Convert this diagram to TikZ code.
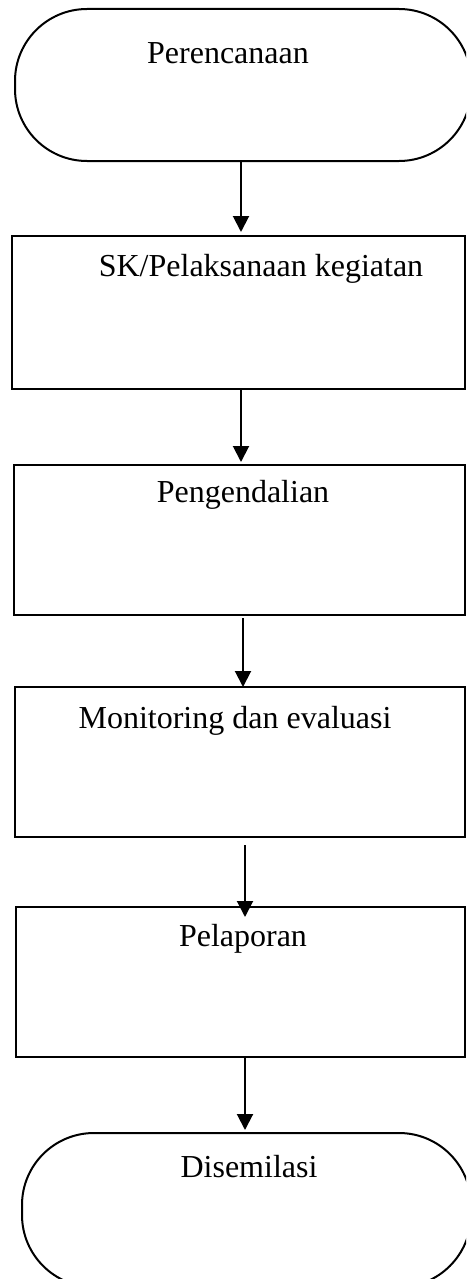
\documentclass[tikz,border=0pt]{standalone}
\usepackage{fontspec}
\setmainfont{Liberation Serif}
\usetikzlibrary{positioning,arrows.meta}

\tikzset{
  box/.style={draw, line width=2pt, inner sep=0pt},
  term/.style={box, rounded corners=72pt},
  lbl/.style={anchor=base, inner sep=0pt, font=\fontsize{32}{37}\selectfont},
  arr/.style={line width=2pt, -{Triangle[width=16pt,length=16pt]}}
}

\begin{document}
\begin{tikzpicture}[x=1pt, y=-1pt]
  \clip (0,0) rectangle (466,1279);
  % Shapes
  \node[term, minimum width=456pt, minimum height=152pt] (start) at (243,85) {};
  \node[box, minimum width=453pt, minimum height=153pt] (sk) at (238.5,312.5) {};
  \node[box, minimum width=451pt, minimum height=150pt] (ctrl) at (239.5,540) {};
  \node[box, minimum width=450pt, minimum height=150pt] (monev) at (240,762) {};
  \node[box, minimum width=449pt, minimum height=150pt] (report) at (240.5,982) {};
  \node[term, minimum width=449pt, minimum height=154pt] (finish) at (246.5,1210) {};
  % Labels
  \node[lbl] (t1) at ([xshift=-15pt,yshift=-56pt]start.north) {Perencanaan};
  \node[lbl] (t2) at ([xshift=22.5pt,yshift=-41pt]sk.north) {SK/Pelaksanaan kegiatan};
  \node[lbl] (t3) at ([xshift=3.5pt,yshift=-38pt]ctrl.north) {Pengendalian};
  \node[lbl] (t4) at ([xshift=-5pt,yshift=-42pt]monev.north) {Monitoring dan evaluasi};
  \node[lbl] (t5) at ([xshift=2.5pt,yshift=-40pt]report.north) {Pelaporan};
  \node[lbl] (t6) at ([xshift=2.5pt,yshift=-45pt]finish.north) {Disemilasi};
  % Arrows
  \draw[arr] ([xshift=-2pt]start.south) -- ([xshift=2.5pt,yshift=3pt]sk.north);
  \draw[arr] ([xshift=2.5pt]sk.south) -- ([xshift=1.5pt,yshift=2pt]ctrl.north);
  \draw[arr] ([xshift=3.5pt,yshift=-2pt]ctrl.south) -- ([xshift=3pt,yshift=-1pt]monev.north);
  \draw[arr] ([xshift=5pt,yshift=-7pt]monev.south) -- ([xshift=4.5pt,yshift=-11pt]report.north);
  \draw[arr] ([xshift=4.5pt]report.south) -- ([xshift=-1.5pt,yshift=2pt]finish.north);
\end{tikzpicture}
\end{document}
